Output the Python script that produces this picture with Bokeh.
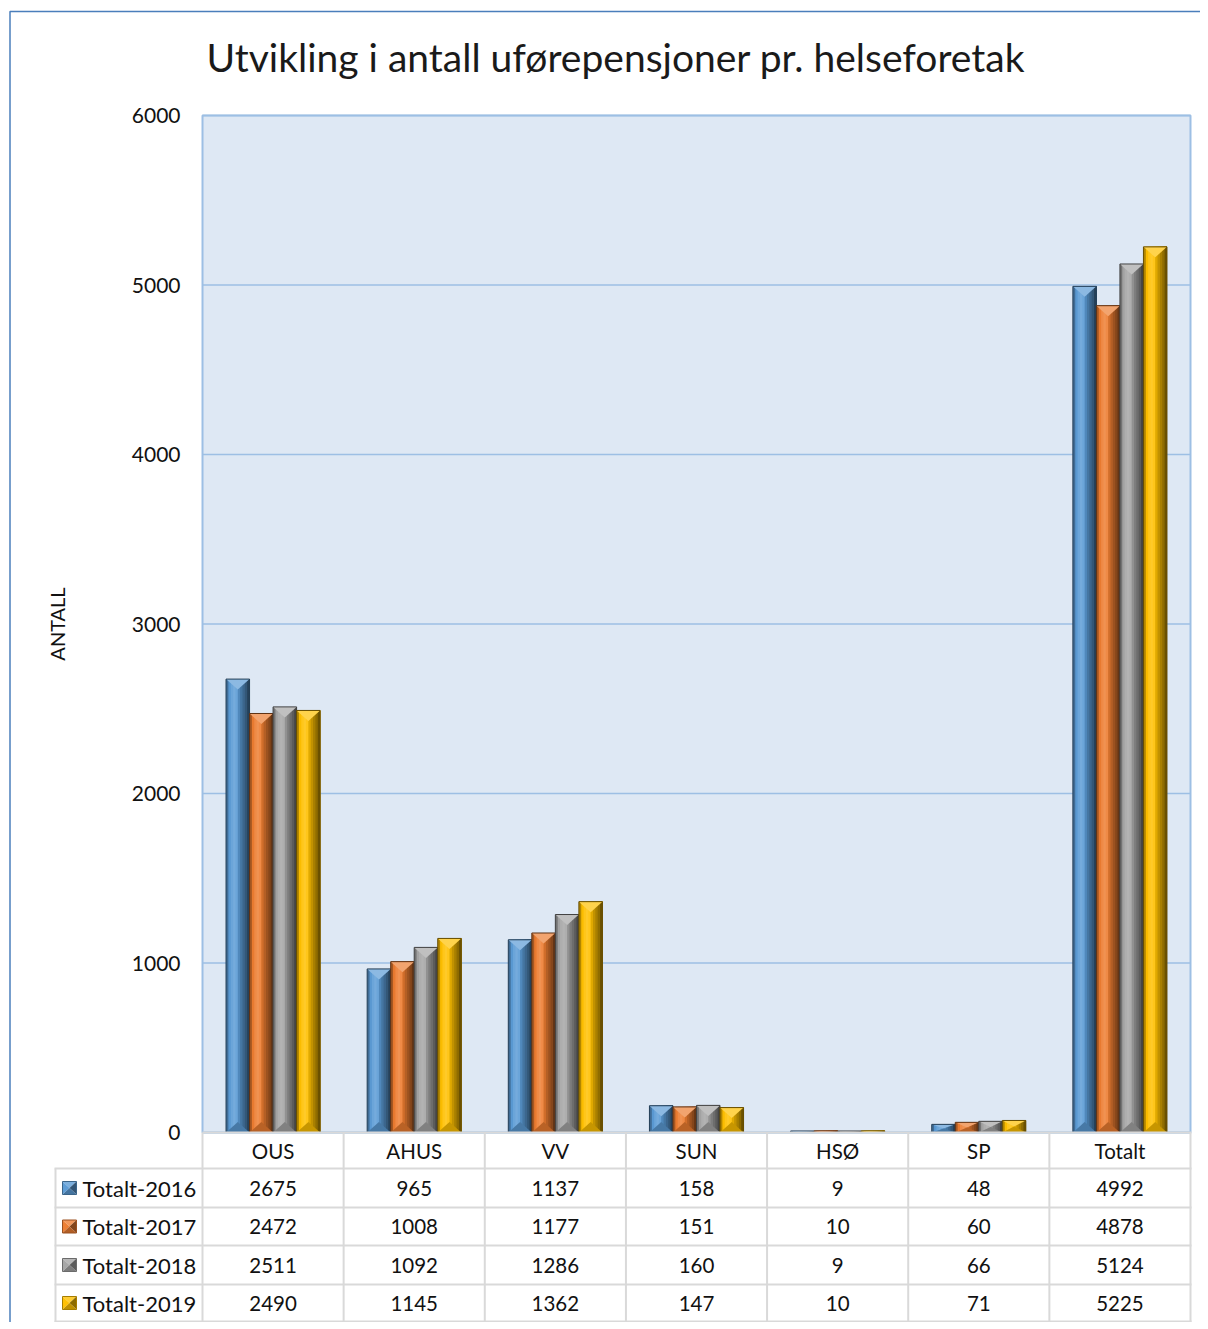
import numpy as np
from bokeh.plotting import figure
from bokeh.models import Range1d, FixedTicker, LinearAxis
from bokeh.core.properties import value
from bokeh.embed import file_html
from bokeh.resources import INLINE

# ---------------- data ----------------
categories = ["OUS", "AHUS", "VV", "SUN", "HSØ", "SP", "Totalt"]
series_names = ["Totalt-2016", "Totalt-2017", "Totalt-2018", "Totalt-2019"]
totalt_2016 = [2675, 965, 1137, 158, 9, 48, 4992]
totalt_2017 = [2472, 1008, 1177, 151, 10, 60, 4878]
totalt_2018 = [2511, 1092, 1286, 160, 9, 66, 5124]
totalt_2019 = [2490, 1145, 1362, 147, 10, 71, 5225]
y_ticks = [0, 1000, 2000, 3000, 4000, 5000, 6000]
title_text = "Utvikling i antall uførepensjoner pr. helseforetak"
y_label = "ANTALL"

series_values = [totalt_2016, totalt_2017, totalt_2018, totalt_2019]
base_colors = ["#5B9BD5", "#ED7D31", "#A5A5A5", "#FFC000"]

FONT = "Lato"
TXT = "#111111"

# ---------------- layout helpers (page pixel -> data) ----------------
W, H = 1200, 1322
PX_X = 988.0 / 7.0
PX_Y = 1017.0 / 6000.0


def X(rx):
    return (rx - 202.0) / PX_X


def Y(ry):
    return (1132.0 - ry) / PX_Y


def shade(hexc, f):
    h = hexc.lstrip("#")
    r, g, b = (int(h[i:i + 2], 16) for i in (0, 2, 4))
    if f >= 0:
        r, g, b = (c + (255 - c) * f for c in (r, g, b))
    else:
        r, g, b = (c * (1 + f) for c in (r, g, b))
    return "#%02x%02x%02x" % tuple(int(round(max(0, min(255, c)))) for c in (r, g, b))


p = figure(width=W, height=H,
           x_range=Range1d(X(0), X(W)), y_range=Range1d(Y(H), Y(0)),
           output_backend="svg", toolbar_location=None,
           x_axis_location=None, y_axis_location=None,
           min_border_left=0, min_border_right=0,
           min_border_top=0, min_border_bottom=0)
p.title.visible = False
p.background_fill_color = "white"
p.border_fill_color = "white"
p.outline_line_color = None
p.grid.visible = False

# plot area background and grid lines
p.quad(left=0, right=7, bottom=0, top=6000, fill_color="#dee8f4",
       line_color="#9dbfe4", line_width=2)
p.segment(x0=0, x1=7, y0=y_ticks, y1=y_ticks, line_color="#9dbfe4", line_width=1.5)

# y axis, placed inside the frame at the left edge of the plot area
yaxis = LinearAxis(ticker=FixedTicker(ticks=y_ticks), fixed_location=0,
                   bounds=(0, 6000), axis_label=y_label)
yaxis.axis_line_color = None
yaxis.major_tick_line_color = None
yaxis.minor_tick_line_color = None
yaxis.major_label_standoff = 16
yaxis.major_label_text_font = FONT
yaxis.major_label_text_font_size = "21px"
yaxis.major_label_text_color = TXT
yaxis.axis_label_text_font = FONT
yaxis.axis_label_text_font_size = "20px"
yaxis.axis_label_text_font_style = "normal"
yaxis.axis_label_text_color = TXT
yaxis.axis_label_standoff = 60
p.add_layout(yaxis, "left")

# ---------------- bars ----------------
bw = 1.0 / 6.0
offsets = [-1.5 * bw, -0.5 * bw, 0.5 * bw, 1.5 * bw]
strip_f = [-0.30, -0.02, 0.10, 0.16, 0.10, -0.12, -0.24, -0.34, -0.44, -0.58]
nstr = len(strip_f)
depth = 10.5 / PX_Y
cx = np.arange(len(categories)) + 0.5

for s, vals in enumerate(series_values):
    v = np.array(vals, dtype=float)
    x0 = cx + offsets[s] - bw / 2
    base = base_colors[s]
    for k, f in enumerate(strip_f):
        p.quad(left=x0 + k * bw / nstr, right=x0 + bw, bottom=0, top=v,
               fill_color=shade(base, f), line_color=None)
    d = np.minimum(depth, v / 2)
    xs_tri = [[a, a + bw, a + bw / 2] for a in x0]
    p.patches(xs_tri, [[t, t, t - dd] for t, dd in zip(v, d)],
              fill_color=shade(base, 0.30), line_color=None)
    p.patches(xs_tri, [[0, 0, dd] for dd in d],
              fill_color=shade(base, -0.22), line_color=None)
    p.quad(left=x0, right=x0 + bw, bottom=0, top=v, fill_color=None,
           line_color=shade(base, -0.6), line_width=1)

# ---------------- data table ----------------
grid_col = "#d9d9d9"
row_edges = [1132, 1168, 1207, 1245, 1284, 1321]
col_edges = [202 + i * PX_X for i in range(len(categories) + 1)]

h_x0 = [X(202)] + [X(54)] * (len(row_edges) - 1)
p.segment(x0=h_x0, x1=[X(1191)] * len(row_edges),
          y0=[Y(r) for r in row_edges], y1=[Y(r) for r in row_edges],
          line_color=grid_col, line_width=2)
p.segment(x0=[X(c) for c in col_edges] + [X(55)], x1=[X(c) for c in col_edges] + [X(55)],
          y0=[Y(1132)] * len(col_edges) + [Y(1168)], y1=[Y(1322)] * (len(col_edges) + 1),
          line_color=grid_col, line_width=2)

p.text(x=cx, y=[Y((row_edges[0] + row_edges[1]) / 2)] * len(categories), text=categories,
       text_font=value(FONT), text_font_size="20.5px", text_color=TXT,
       text_align="center", text_baseline="middle")

row_mid = [(row_edges[s + 1] + row_edges[s + 2]) / 2 for s in range(len(series_values))]
for s, vals in enumerate(series_values):
    ry = row_mid[s]
    p.text(x=cx, y=[Y(ry)] * len(vals), text=[str(v) for v in vals],
           text_font=value(FONT), text_font_size="20.5px", text_color=TXT,
           text_align="center", text_baseline="middle")
    base = base_colors[s]
    l, r, t, b = X(62), X(76), Y(ry - 6.5), Y(ry + 6.5)
    ck, cy = (l + r) / 2, (t + b) / 2
    tris = [([l, r, ck], [t, t, cy], 0.20),
            ([l, l, ck], [t, b, cy], 0.02),
            ([r, r, ck], [t, b, cy], -0.45),
            ([l, r, ck], [b, b, cy], -0.25)]
    p.patches([q[0] for q in tris], [q[1] for q in tris],
              fill_color=[shade(base, q[2]) for q in tris], line_color=None)
    p.quad(left=l, right=r, top=t, bottom=b, fill_color=None,
           line_color=shade(base, -0.35), line_width=1)

p.text(x=[X(82)] * len(series_names), y=[Y(r) for r in row_mid], text=series_names,
       text_font=value(FONT), text_font_size="22px", text_color=TXT,
       text_align="left", text_baseline="middle")

# ---------------- title ----------------
p.text(x=[X(206)], y=[Y(56)], text=[title_text], text_font=value(FONT),
       text_font_size="39px", text_color="#1a1a1a",
       text_align="left", text_baseline="alphabetic")

# outer chart border
p.line(x=[X(9.5), X(9.5), X(1215)], y=[Y(1340), Y(11), Y(11)],
       line_color="#4a7ebb", line_width=1.5)

open("out.html", "w").write(file_html(p, INLINE))
